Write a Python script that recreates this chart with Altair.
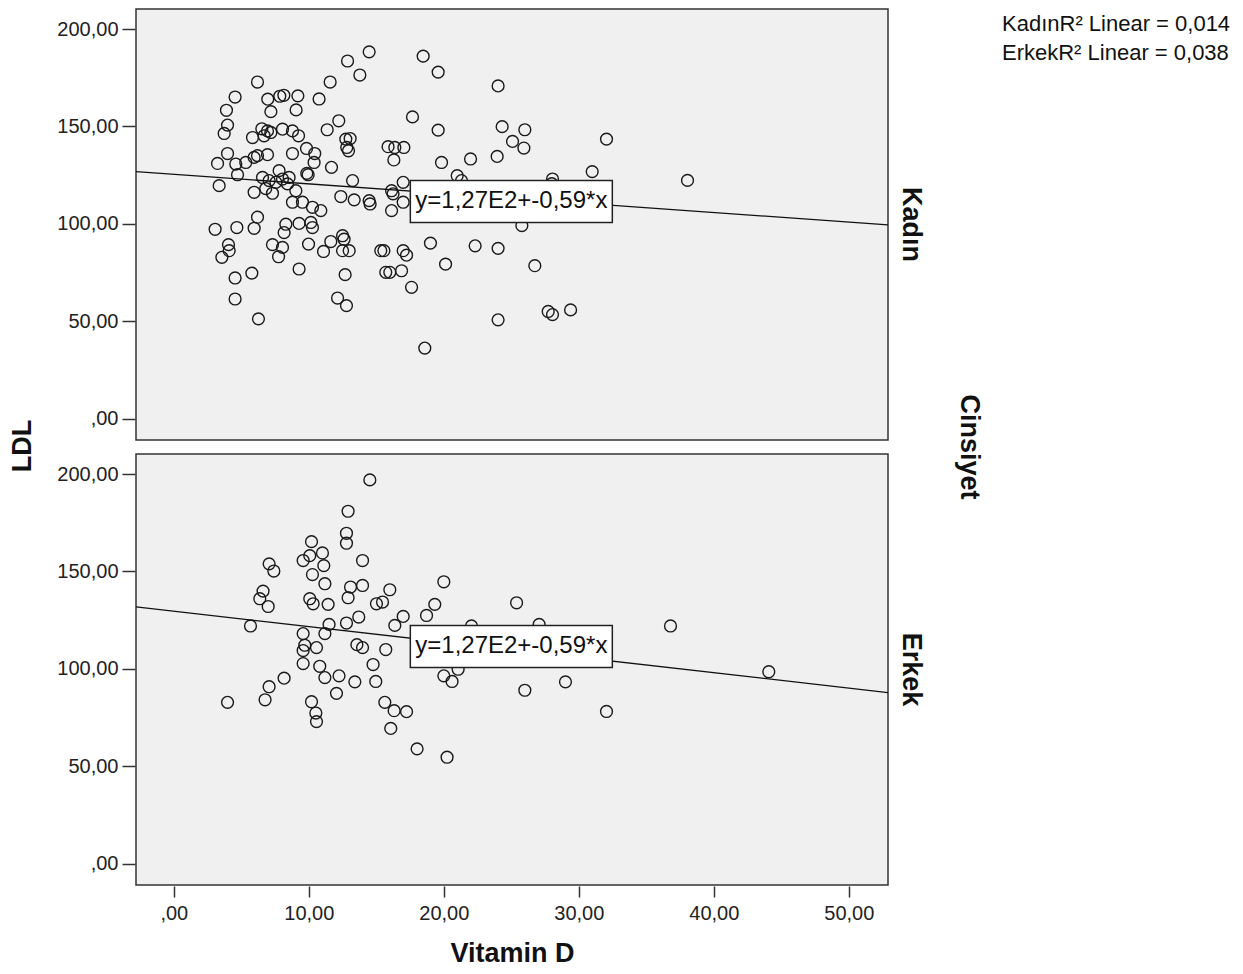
import altair as alt
import pandas as pd

groups = ["Kadın", "Erkek"]

kadin_x = [14.47, 12.87, 13.78, 11.58, 6.2, 4.54, 6.96, 7.85, 8.15, 9.19, 10.76, 3.90, 7.19, 9.06, 12.22,
           11.36, 3.98, 3.73, 6.52, 6.94, 5.83, 6.69, 7.19, 8.05, 8.79, 9.24, 12.74, 13.06, 12.94, 12.81,
           3.98, 3.24, 4.59, 5.33, 5.95, 6.2, 6.94, 8.79, 9.83, 10.44, 10.39, 9.85, 9.95, 11.68, 13.24,
           3.36, 4.72, 5.95, 6.57, 7.06, 7.56, 8.05, 8.54, 8.42, 7.8, 7.31, 12.37, 13.36, 14.47, 14.54,
           8.79, 9.53, 10.27, 10.89, 6.2, 6.81, 9.04, 18.47, 19.58, 24.02, 17.68, 19.58, 24.32, 26.0, 25.09,
           25.93, 32.05, 15.87, 16.37, 17.04, 16.3, 19.83, 21.98, 23.95, 20.99, 21.31, 16.99, 16.13, 16.24,
           16.99, 16.13, 28.05, 30.99, 28.0, 25.78, 15.56, 16.99, 17.24, 19.01, 22.32, 24.02, 20.13, 26.74,
           16.0, 16.87, 17.61, 24.02, 27.73, 28.05, 29.39, 18.59, 3.06, 4.67, 5.95, 4.05, 4.10, 3.56, 7.31,
           8.05, 7.76, 8.17, 8.30, 9.28, 9.98, 10.27, 10.15, 9.28, 11.09, 11.63, 12.5, 12.61, 12.5, 12.99,
           15.33, 15.70, 12.69, 4.54, 5.78, 4.54, 12.13, 12.79, 6.27, 38.05]
kadin_y = [188.3, 183.6, 176.4, 172.8, 172.8, 165.1, 164.0, 165.5, 166.0, 165.7, 164.1, 158.3, 157.6, 158.5, 152.9,
           148.3, 150.7, 146.4, 148.8, 147.7, 144.3, 145.2, 146.9, 148.6, 147.7, 145.2, 143.5, 143.8, 137.5, 139.2,
           136.1, 131.0, 130.7, 131.5, 134.1, 135.0, 135.5, 136.1, 138.7, 136.1, 131.5, 125.9, 125.2, 129.0, 122.2,
           119.6, 125.2, 116.2, 123.8, 122.2, 121.3, 123.0, 123.8, 120.5, 127.3, 115.7, 114.0, 112.3, 111.9, 110.2,
           111.1, 111.1, 108.5, 106.8, 103.4, 118.1, 117.0, 186.1, 177.9, 170.8, 154.9, 148.1, 149.9, 148.3, 142.3,
           138.9, 143.5, 139.6, 139.2, 139.2, 132.8, 131.5, 133.3, 134.6, 124.7, 122.2, 121.3, 117.0, 115.4,
           111.1, 106.8, 123.0, 126.8, 120.6, 99.1, 86.2, 86.2, 83.9, 90.1, 88.7, 87.4, 79.3, 78.5,
           75.1, 75.9, 67.4, 50.7, 55.0, 53.4, 55.8, 36.2, 97.2, 98.1, 97.7, 89.3, 86.2, 82.8, 89.3,
           87.9, 83.1, 95.5, 99.8, 100.2, 89.6, 98.1, 100.7, 76.8, 85.8, 90.9, 93.9, 92.1, 86.2, 86.2,
           86.2, 75.1, 73.9, 72.2, 74.7, 61.4, 61.9, 58.0, 51.2, 122.3]

erkek_x = [14.52, 12.91, 12.79, 12.79, 10.2, 11.01, 10.07, 9.58, 11.11, 10.27, 7.06, 7.41, 13.98, 11.19, 13.09,
           12.91, 13.98, 16.0, 6.61, 6.37, 6.99, 10.07, 10.32, 11.43, 15.01, 15.46, 5.68, 16.99, 16.37, 18.72,
           13.70, 12.79, 11.50, 11.19, 9.58, 9.70, 9.58, 10.57, 13.56, 13.98, 15.70, 9.58, 10.81, 14.76, 11.19,
           12.24, 13.41, 14.96, 8.17, 7.06, 6.76, 3.98, 12.05, 10.2, 10.52, 10.57, 15.63, 16.32, 17.24, 16.07,
           18.02, 20.0, 19.33, 25.39, 27.06, 22.05, 36.79, 44.07, 20.0, 20.61, 21.06, 26.0, 29.01, 32.05, 20.24]
erkek_y = [197.0, 180.9, 169.6, 164.5, 165.3, 159.5, 158.1, 155.6, 153.0, 148.4, 153.9, 150.2, 155.6, 143.7, 142.0,
           136.5, 142.8, 140.6, 139.9, 136.0, 132.0, 136.0, 133.4, 133.1, 133.4, 134.3, 122.0, 126.9, 122.3, 127.4,
           126.6, 123.5, 122.8, 118.1, 118.1, 112.1, 109.4, 110.9, 112.4, 110.9, 109.9, 102.7, 101.3, 102.2, 95.5,
           96.4, 93.3, 93.5, 95.2, 90.8, 84.1, 82.8, 87.4, 83.1, 77.3, 72.9, 82.8, 78.5, 78.0, 69.4,
           58.9, 144.7, 133.1, 133.9, 122.8, 122.0, 122.0, 98.5, 96.4, 93.5, 99.8, 89.0, 93.3, 78.1, 54.6]

fit_intercept = [125.4, 129.6]
fit_slope = [-0.49, -0.79]
equation = "y=1,27E2+-0,59*x"
r2_lines = ["KadınR² Linear = 0,014", "ErkekR² Linear = 0,038"]
y_title = ["LDL"]

X_DOMAIN = [-2.8, 52.9]
Y_DOMAIN = [-11.0, 210.3]
LABEL_X, LABEL_Y = 25.0, 111.5
PANEL_W, PANEL_H, ROW_GAP = 752, 431, 12

rows = []
for g, xs, ys in [("Kadın", kadin_x, kadin_y), ("Erkek", erkek_x, erkek_y)]:
    for a, b in zip(xs, ys):
        rows.append({"Cinsiyet": g, "kind": "pt", "x": a, "y": b, "text": ""})
for g, a, b in zip(groups, fit_intercept, fit_slope):
    for xv in X_DOMAIN:
        rows.append({"Cinsiyet": g, "kind": "fit", "x": xv, "y": a + b * xv, "text": ""})
    rows.append({"Cinsiyet": g, "kind": "lab", "x": LABEL_X, "y": LABEL_Y, "text": equation})
df = pd.DataFrame(rows)

num_expr = "datum.value == 0 ? ',00' : replace(format(datum.value, '.2f'), '.', ',')"
FONT = "Liberation Sans"

X = alt.X("x:Q", scale=alt.Scale(domain=X_DOMAIN, nice=False, zero=False),
          axis=alt.Axis(values=[0, 10, 20, 30, 40, 50], labelExpr=num_expr, title="Vitamin D",
                        tickSize=11, labelPadding=6, titlePadding=17))
Y = alt.Y("y:Q", scale=alt.Scale(domain=Y_DOMAIN, nice=False, zero=False),
          axis=alt.Axis(values=[0, 50, 100, 150, 200], labelExpr=num_expr, title=None,
                        tickSize=13, labelPadding=4))

pts = alt.Chart().transform_filter("datum.kind == 'pt'").mark_point(
    shape="circle", filled=False, size=140, color="#1a1a1a", strokeWidth=1.4, opacity=1
).encode(x=X, y=Y)

fit = alt.Chart().transform_filter("datum.kind == 'fit'").mark_line(
    color="#111111", strokeWidth=1.3, clip=True
).encode(x=X, y=Y)

box = alt.Chart().transform_filter("datum.kind == 'lab'").mark_point(
    shape="M-1,-0.208L1,-0.208L1,0.208L-1,0.208Z", size=202 * 202, filled=True,
    fill="white", stroke="#222222", strokeWidth=1.5, opacity=1, fillOpacity=1, strokeOpacity=1
).encode(x=X, y=Y)

txt = alt.Chart().transform_filter("datum.kind == 'lab'").mark_text(
    fontSize=24, font=FONT, color="#111111"
).encode(x=X, y=Y, text="text:N")

panel = alt.layer(pts, fit, box, txt, data=df).properties(width=PANEL_W, height=PANEL_H)

faceted = panel.facet(
    row=alt.Row("Cinsiyet:N", sort=groups, title="Cinsiyet",
                header=alt.Header(labelOrient="right", labelAngle=90, labelFontSize=27,
                                  labelFontWeight="bold", labelFont=FONT, labelColor="#111",
                                  labelPadding=8,
                                  titleOrient="right", titleAngle=90, titleFontSize=27,
                                  titleFontWeight="bold", titleFont=FONT, titleColor="#111",
                                  titlePadding=20)),
    spacing=ROW_GAP,
)

no_frame = alt.ViewBackground(fill="white", stroke="transparent")

ytitle = alt.Chart(pd.DataFrame({"t": y_title})).mark_text(
    angle=270, align="center", baseline="middle", fontSize=27, fontWeight="bold",
    font=FONT, color="#111111"
).encode(
    x=alt.value(14), y=alt.value((2 * PANEL_H + ROW_GAP) / 2), text="t:N"
).properties(width=28, height=2 * PANEL_H + ROW_GAP, view=no_frame)

legend_df = pd.DataFrame({"i": list(range(len(r2_lines))), "t": r2_lines})
legend = alt.Chart(legend_df).mark_text(
    align="left", baseline="middle", fontSize=22, font=FONT, color="#111"
).encode(
    x=alt.value(0),
    y=alt.Y("i:O", axis=None, scale=alt.Scale(paddingOuter=0.283, paddingInner=0)),
    text="t:N",
).properties(width=2, height=59, view=no_frame)

chart = alt.hconcat(ytitle, faceted, legend, spacing=18).properties(
    padding={"left": 0, "top": 0, "right": 0, "bottom": 0}, background="white"
).configure_view(
    fill="#F0F0F0", stroke="#333333", strokeWidth=1.5
).configure_axis(
    grid=False, domain=False, tickColor="#333333", tickWidth=1.5,
    labelFont=FONT, labelFontSize=20, labelColor="#222222",
    titleFont=FONT, titleFontSize=27, titleFontWeight="bold", titleColor="#111111"
)

chart.save("out.html", embed_options={"renderer": "svg", "actions": False})
